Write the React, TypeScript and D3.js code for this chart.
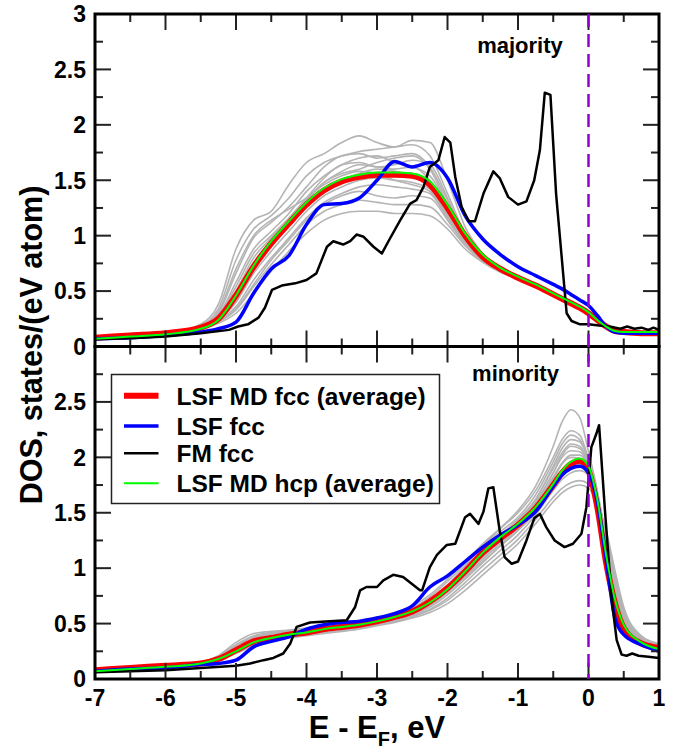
import React from "react";
import * as d3 from "d3";

// energy grid (eV, relative to E_F) shared by the smooth curves
const energy = [-7, -6.5, -6, -5.5, -5.25, -5, -4.75, -4.5, -4.25, -4, -3.75, -3.5, -3.25, -3, -2.75, -2.5, -2.25, -2, -1.75, -1.5, -1.25, -1, -0.75, -0.5, -0.375, -0.25, -0.125, 0, 0.125, 0.25, 0.375, 0.5, 0.75, 1];

// ---- majority spin ----
const majRed = [0.08, 0.10, 0.12, 0.17, 0.25, 0.46, 0.72, 0.93, 1.11, 1.28, 1.41, 1.49, 1.53, 1.55, 1.55, 1.54, 1.46, 1.25, 1.00, 0.81, 0.70, 0.62, 0.55, 0.47, 0.43, 0.39, 0.35, 0.30, 0.24, 0.18, 0.14, 0.13, 0.12, 0.12];
const majGreen = [0.07, 0.09, 0.11, 0.16, 0.24, 0.46, 0.73, 0.95, 1.13, 1.30, 1.43, 1.51, 1.55, 1.57, 1.57, 1.56, 1.49, 1.28, 1.02, 0.83, 0.71, 0.63, 0.56, 0.48, 0.44, 0.40, 0.36, 0.31, 0.24, 0.18, 0.14, 0.13, 0.13, 0.13];
const majBlue = [0.07, 0.08, 0.10, 0.13, 0.16, 0.22, 0.48, 0.70, 0.82, 1.10, 1.28, 1.29, 1.34, 1.50, 1.67, 1.62, 1.66, 1.52, 1.18, 0.97, 0.83, 0.72, 0.64, 0.56, 0.52, 0.47, 0.42, 0.37, 0.28, 0.18, 0.13, 0.12, 0.12, 0.12];
const majBlack: [number, number][] = [
  [-7, 0.065], [-6.5, 0.075], [-6, 0.09], [-5.5, 0.12], [-5.1, 0.15], [-4.97, 0.18], [-4.83, 0.2], [-4.68, 0.26], [-4.59, 0.35], [-4.49, 0.51], [-4.35, 0.55], [-4.16, 0.57], [-4.0, 0.6], [-3.86, 0.66], [-3.71, 0.9], [-3.62, 0.95], [-3.48, 0.92], [-3.38, 0.95], [-3.29, 1.01], [-3.19, 0.99], [-3.05, 0.9], [-2.93, 0.84], [-2.82, 0.97], [-2.67, 1.14], [-2.53, 1.29], [-2.44, 1.32], [-2.34, 1.44], [-2.25, 1.62], [-2.13, 1.68], [-2.04, 1.89], [-1.96, 1.84], [-1.89, 1.53], [-1.8, 1.26], [-1.7, 1.13], [-1.61, 1.13], [-1.49, 1.38], [-1.35, 1.58], [-1.26, 1.52], [-1.14, 1.35], [-1.0, 1.28], [-0.88, 1.31], [-0.77, 1.5], [-0.69, 1.77], [-0.62, 2.29], [-0.54, 2.27], [-0.46, 1.38], [-0.31, 0.3], [-0.24, 0.23], [-0.12, 0.2], [0, 0.2], [0.15, 0.19], [0.3, 0.18], [0.45, 0.16], [0.55, 0.18], [0.65, 0.16], [0.75, 0.17], [0.85, 0.15], [0.92, 0.17], [1.0, 0.15],
];
const majGray = [
  [0.08, 0.10, 0.12, 0.20, 0.38, 0.88, 1.14, 1.22, 1.46, 1.66, 1.74, 1.84, 1.90, 1.84, 1.80, 1.86, 1.84, 1.50, 1.08, 0.84, 0.71, 0.62, 0.55, 0.47, 0.43, 0.39, 0.35, 0.30, 0.24, 0.18, 0.14, 0.13, 0.12, 0.12],
  [0.08, 0.10, 0.12, 0.19, 0.34, 0.78, 1.06, 1.18, 1.34, 1.54, 1.66, 1.72, 1.76, 1.78, 1.80, 1.82, 1.72, 1.38, 1.02, 0.82, 0.70, 0.61, 0.54, 0.46, 0.42, 0.38, 0.34, 0.29, 0.23, 0.17, 0.14, 0.13, 0.12, 0.12],
  [0.08, 0.10, 0.12, 0.18, 0.30, 0.66, 0.98, 1.12, 1.26, 1.44, 1.62, 1.72, 1.74, 1.70, 1.72, 1.74, 1.62, 1.32, 1.00, 0.81, 0.70, 0.63, 0.56, 0.48, 0.44, 0.40, 0.36, 0.31, 0.25, 0.19, 0.15, 0.13, 0.13, 0.13],
  [0.08, 0.10, 0.12, 0.18, 0.28, 0.58, 0.88, 1.04, 1.20, 1.40, 1.54, 1.64, 1.70, 1.72, 1.66, 1.62, 1.54, 1.28, 0.98, 0.80, 0.69, 0.62, 0.55, 0.47, 0.43, 0.39, 0.35, 0.30, 0.24, 0.18, 0.14, 0.13, 0.12, 0.12],
  [0.08, 0.10, 0.12, 0.17, 0.26, 0.50, 0.80, 0.98, 1.14, 1.32, 1.48, 1.58, 1.64, 1.62, 1.60, 1.62, 1.50, 1.24, 0.96, 0.79, 0.69, 0.61, 0.54, 0.46, 0.42, 0.38, 0.34, 0.29, 0.23, 0.17, 0.14, 0.13, 0.12, 0.12],
  [0.08, 0.10, 0.12, 0.17, 0.25, 0.44, 0.72, 0.92, 1.08, 1.26, 1.40, 1.50, 1.56, 1.60, 1.58, 1.54, 1.46, 1.20, 0.95, 0.79, 0.69, 0.62, 0.55, 0.47, 0.43, 0.39, 0.35, 0.30, 0.24, 0.18, 0.14, 0.13, 0.12, 0.12],
  [0.08, 0.10, 0.12, 0.17, 0.24, 0.40, 0.66, 0.86, 1.04, 1.22, 1.36, 1.44, 1.50, 1.52, 1.50, 1.48, 1.42, 1.18, 0.94, 0.79, 0.69, 0.63, 0.56, 0.48, 0.44, 0.40, 0.36, 0.31, 0.25, 0.19, 0.15, 0.13, 0.13, 0.13],
  [0.08, 0.10, 0.12, 0.16, 0.23, 0.36, 0.60, 0.80, 0.98, 1.16, 1.30, 1.38, 1.44, 1.46, 1.44, 1.42, 1.38, 1.16, 0.93, 0.78, 0.68, 0.61, 0.54, 0.46, 0.42, 0.38, 0.34, 0.29, 0.23, 0.17, 0.14, 0.13, 0.12, 0.12],
  [0.08, 0.10, 0.12, 0.16, 0.22, 0.33, 0.54, 0.74, 0.92, 1.10, 1.22, 1.28, 1.32, 1.30, 1.28, 1.28, 1.26, 1.10, 0.91, 0.77, 0.68, 0.62, 0.55, 0.47, 0.43, 0.39, 0.35, 0.30, 0.24, 0.18, 0.14, 0.13, 0.12, 0.12],
  [0.08, 0.10, 0.12, 0.16, 0.21, 0.30, 0.48, 0.68, 0.86, 1.02, 1.14, 1.20, 1.22, 1.22, 1.20, 1.20, 1.18, 1.06, 0.88, 0.76, 0.67, 0.61, 0.54, 0.46, 0.42, 0.38, 0.34, 0.29, 0.23, 0.17, 0.14, 0.13, 0.12, 0.12],
  [0.08, 0.10, 0.12, 0.17, 0.27, 0.54, 0.84, 1.00, 1.16, 1.34, 1.52, 1.64, 1.66, 1.62, 1.64, 1.68, 1.64, 1.34, 0.99, 0.80, 0.70, 0.63, 0.56, 0.48, 0.44, 0.40, 0.36, 0.31, 0.25, 0.19, 0.15, 0.13, 0.13, 0.13],
  [0.08, 0.10, 0.12, 0.18, 0.31, 0.70, 1.00, 1.14, 1.24, 1.34, 1.46, 1.54, 1.58, 1.56, 1.50, 1.46, 1.40, 1.16, 0.94, 0.79, 0.69, 0.62, 0.55, 0.47, 0.43, 0.39, 0.35, 0.30, 0.24, 0.18, 0.14, 0.13, 0.12, 0.12],
  [0.08, 0.10, 0.12, 0.17, 0.25, 0.46, 0.76, 0.96, 1.14, 1.32, 1.48, 1.56, 1.60, 1.66, 1.70, 1.72, 1.60, 1.28, 0.97, 0.80, 0.69, 0.61, 0.54, 0.46, 0.42, 0.38, 0.34, 0.29, 0.23, 0.17, 0.14, 0.13, 0.12, 0.12],
  [0.08, 0.10, 0.12, 0.16, 0.22, 0.34, 0.56, 0.78, 0.96, 1.14, 1.28, 1.36, 1.40, 1.36, 1.34, 1.36, 1.34, 1.14, 0.92, 0.78, 0.68, 0.62, 0.55, 0.47, 0.43, 0.39, 0.35, 0.30, 0.24, 0.18, 0.14, 0.13, 0.12, 0.12],
];

// ---- minority spin ----
const minRed = [0.08, 0.10, 0.12, 0.14, 0.18, 0.26, 0.34, 0.37, 0.40, 0.42, 0.45, 0.47, 0.49, 0.52, 0.56, 0.61, 0.70, 0.82, 0.97, 1.14, 1.27, 1.39, 1.54, 1.75, 1.86, 1.94, 1.97, 1.88, 1.55, 1.05, 0.68, 0.46, 0.32, 0.28];
const minGreen = [0.07, 0.09, 0.11, 0.14, 0.18, 0.25, 0.33, 0.37, 0.40, 0.42, 0.45, 0.47, 0.49, 0.52, 0.56, 0.61, 0.69, 0.81, 0.97, 1.14, 1.28, 1.40, 1.55, 1.76, 1.88, 1.96, 1.99, 1.92, 1.62, 1.12, 0.72, 0.49, 0.33, 0.27];
const minBlue = [0.07, 0.09, 0.10, 0.13, 0.14, 0.17, 0.29, 0.34, 0.38, 0.45, 0.49, 0.51, 0.52, 0.55, 0.59, 0.66, 0.83, 0.93, 1.06, 1.19, 1.30, 1.39, 1.51, 1.74, 1.84, 1.90, 1.92, 1.86, 1.60, 1.08, 0.55, 0.40, 0.31, 0.25];
const minBlack: [number, number][] = [
  [-7, 0.06], [-6.5, 0.07], [-6, 0.08], [-5.5, 0.1], [-5.0, 0.12], [-4.8, 0.14], [-4.61, 0.17], [-4.47, 0.19], [-4.33, 0.23], [-4.23, 0.32], [-4.14, 0.47], [-3.95, 0.51], [-3.67, 0.52], [-3.43, 0.53], [-3.31, 0.65], [-3.24, 0.8], [-3.15, 0.83], [-3.0, 0.83], [-2.91, 0.89], [-2.77, 0.94], [-2.63, 0.92], [-2.39, 0.8], [-2.36, 0.8], [-2.25, 1.01], [-2.15, 1.12], [-2.01, 1.21], [-1.89, 1.22], [-1.75, 1.46], [-1.68, 1.49], [-1.56, 1.4], [-1.49, 1.51], [-1.42, 1.72], [-1.35, 1.73], [-1.26, 1.34], [-1.19, 1.1], [-1.09, 1.04], [-1.0, 1.06], [-0.88, 1.25], [-0.77, 1.45], [-0.69, 1.49], [-0.6, 1.37], [-0.48, 1.25], [-0.34, 1.19], [-0.22, 1.22], [-0.1, 1.31], [-0.03, 1.55], [0.04, 2.09], [0.11, 2.21], [0.15, 2.29], [0.23, 1.55], [0.33, 0.71], [0.4, 0.35], [0.47, 0.22], [0.54, 0.21], [0.62, 0.23], [0.71, 0.21], [0.85, 0.2], [1.0, 0.19],
];
const minGray = [
  [0.08, 0.10, 0.12, 0.15, 0.21, 0.33, 0.41, 0.43, 0.44, 0.45, 0.47, 0.49, 0.51, 0.54, 0.58, 0.63, 0.72, 0.85, 1.02, 1.20, 1.36, 1.52, 1.74, 2.10, 2.32, 2.43, 2.36, 2.05, 1.70, 1.25, 0.82, 0.55, 0.36, 0.30],
  [0.08, 0.10, 0.12, 0.15, 0.20, 0.31, 0.39, 0.42, 0.44, 0.46, 0.48, 0.50, 0.53, 0.56, 0.60, 0.66, 0.76, 0.90, 1.06, 1.22, 1.36, 1.50, 1.70, 2.00, 2.16, 2.24, 2.20, 1.98, 1.66, 1.22, 0.80, 0.54, 0.35, 0.30],
  [0.08, 0.10, 0.12, 0.15, 0.20, 0.30, 0.38, 0.41, 0.43, 0.45, 0.47, 0.49, 0.52, 0.55, 0.59, 0.64, 0.74, 0.88, 1.04, 1.20, 1.33, 1.46, 1.66, 1.96, 2.12, 2.20, 2.16, 1.96, 1.64, 1.20, 0.78, 0.53, 0.35, 0.30],
  [0.08, 0.10, 0.12, 0.14, 0.19, 0.28, 0.36, 0.40, 0.42, 0.44, 0.46, 0.48, 0.50, 0.53, 0.57, 0.62, 0.70, 0.84, 1.00, 1.16, 1.30, 1.44, 1.62, 1.90, 2.04, 2.12, 2.10, 1.94, 1.62, 1.18, 0.76, 0.52, 0.34, 0.29],
  [0.08, 0.10, 0.12, 0.14, 0.19, 0.27, 0.35, 0.39, 0.42, 0.44, 0.46, 0.48, 0.50, 0.53, 0.56, 0.61, 0.69, 0.82, 0.97, 1.12, 1.26, 1.40, 1.58, 1.86, 2.00, 2.06, 2.05, 1.92, 1.62, 1.20, 0.78, 0.53, 0.34, 0.29],
  [0.08, 0.10, 0.12, 0.14, 0.18, 0.26, 0.34, 0.38, 0.41, 0.43, 0.45, 0.47, 0.49, 0.52, 0.55, 0.60, 0.68, 0.80, 0.94, 1.10, 1.24, 1.38, 1.56, 1.82, 1.95, 2.02, 2.02, 1.92, 1.64, 1.24, 0.82, 0.55, 0.35, 0.30],
  [0.08, 0.10, 0.12, 0.14, 0.18, 0.25, 0.33, 0.37, 0.40, 0.42, 0.44, 0.46, 0.48, 0.51, 0.54, 0.58, 0.65, 0.76, 0.90, 1.05, 1.20, 1.34, 1.52, 1.76, 1.88, 1.95, 1.97, 1.90, 1.66, 1.28, 0.86, 0.57, 0.36, 0.30],
  [0.08, 0.10, 0.12, 0.14, 0.18, 0.25, 0.32, 0.36, 0.39, 0.41, 0.43, 0.45, 0.47, 0.50, 0.53, 0.57, 0.63, 0.73, 0.87, 1.02, 1.16, 1.30, 1.48, 1.70, 1.80, 1.86, 1.88, 1.84, 1.64, 1.30, 0.90, 0.60, 0.37, 0.31],
  [0.08, 0.10, 0.12, 0.14, 0.17, 0.24, 0.31, 0.35, 0.38, 0.40, 0.42, 0.44, 0.46, 0.49, 0.52, 0.56, 0.62, 0.71, 0.84, 0.98, 1.12, 1.26, 1.44, 1.64, 1.72, 1.77, 1.79, 1.76, 1.60, 1.32, 0.94, 0.62, 0.38, 0.31],
  [0.08, 0.10, 0.12, 0.14, 0.17, 0.23, 0.30, 0.34, 0.37, 0.39, 0.41, 0.43, 0.45, 0.48, 0.51, 0.55, 0.60, 0.68, 0.80, 0.94, 1.08, 1.22, 1.40, 1.60, 1.68, 1.73, 1.75, 1.72, 1.58, 1.34, 0.98, 0.65, 0.39, 0.32],
  [0.08, 0.10, 0.12, 0.15, 0.20, 0.29, 0.37, 0.41, 0.43, 0.45, 0.47, 0.49, 0.51, 0.54, 0.58, 0.63, 0.71, 0.84, 0.99, 1.14, 1.28, 1.42, 1.62, 1.92, 2.08, 2.16, 2.14, 1.98, 1.68, 1.26, 0.84, 0.56, 0.36, 0.30],
  [0.08, 0.10, 0.12, 0.14, 0.18, 0.26, 0.34, 0.38, 0.41, 0.43, 0.45, 0.47, 0.49, 0.52, 0.55, 0.59, 0.66, 0.78, 0.92, 1.08, 1.22, 1.36, 1.54, 1.80, 1.94, 2.00, 1.99, 1.88, 1.60, 1.20, 0.80, 0.54, 0.35, 0.30],
  [0.08, 0.10, 0.12, 0.14, 0.18, 0.25, 0.33, 0.37, 0.40, 0.43, 0.45, 0.47, 0.49, 0.52, 0.56, 0.61, 0.68, 0.79, 0.92, 1.06, 1.20, 1.34, 1.50, 1.72, 1.84, 1.92, 1.94, 1.86, 1.62, 1.26, 0.86, 0.58, 0.36, 0.30],
  [0.08, 0.10, 0.12, 0.15, 0.19, 0.28, 0.36, 0.40, 0.42, 0.44, 0.46, 0.48, 0.50, 0.53, 0.57, 0.62, 0.70, 0.83, 0.98, 1.14, 1.28, 1.42, 1.60, 1.86, 2.02, 2.10, 2.08, 1.94, 1.62, 1.18, 0.78, 0.52, 0.34, 0.29],
];

const legendItems = [
  { label: "LSF MD fcc (average)", color: "#ff0000", width: 6 },
  { label: "LSF fcc", color: "#0000ff", width: 3.5 },
  { label: "FM fcc", color: "#000000", width: 2.5 },
  { label: "LSF MD hcp (average)", color: "#00ff00", width: 2 },
];

const FONT = "'Liberation Sans', Arial, Helvetica, sans-serif";

const left = 95;
const right = 659;
const top = 14;
const mid = 346.5;
const bottom = 679;

const x = d3.scaleLinear().domain([-7, 1]).range([left, right]);
const yTop = d3.scaleLinear().domain([0, 3]).range([mid, top]);
const yBot = d3.scaleLinear().domain([0, 3]).range([bottom, mid]);

const fmt = (v: number) => (Number.isInteger(v) ? String(v) : v.toFixed(1));

function Panel({ y, y0, y1, gray, red, blue, black, green, id, yLabels }: any) {
  const smooth = d3
    .line<number>()
    .x((_, i) => x(energy[i]))
    .y((d) => y(d))
    .curve(d3.curveMonotoneX);
  const sharp = d3
    .line<[number, number]>()
    .x((d) => x(d[0]))
    .y((d) => y(d[1]));

  const xt = d3.range(-6.5, 0.51, 0.5);
  const yt = d3.range(0.25, 2.76, 0.25);
  const tickColor = "#222";

  return (
    <g>
      <defs>
        <clipPath id={id}>
          <rect x={left} y={y1} width={right - left} height={y0 - y1} />
        </clipPath>
      </defs>
      <g clipPath={`url(#${id})`} fill="none" strokeLinejoin="round" strokeLinecap="round">
        {gray.map((g: number[], i: number) => (
          <path key={i} d={smooth(g) || ""} stroke="#b4b4b4" strokeWidth={1.6} />
        ))}
        <path d={smooth(red) || ""} stroke="#ff0000" strokeWidth={6} />
        <path d={smooth(blue) || ""} stroke="#0000ff" strokeWidth={3.5} />
        <path d={sharp(black) || ""} stroke="#000" strokeWidth={2.5} />
        <path d={smooth(green) || ""} stroke="#00ff00" strokeWidth={2} />
      </g>
      {xt.map((v) => {
        const len = Number.isInteger(v) ? 16 : 8;
        return (
          <g key={"x" + v} stroke={tickColor} strokeWidth={2}>
            <line x1={x(v)} x2={x(v)} y1={y0} y2={y0 - len} />
            <line x1={x(v)} x2={x(v)} y1={y1} y2={y1 + len} />
          </g>
        );
      })}
      {yt.map((v) => {
        const len = Math.abs(v * 2 - Math.round(v * 2)) < 1e-6 ? 16 : 8;
        return (
          <g key={"y" + v} stroke={tickColor} strokeWidth={2}>
            <line x1={left} x2={left + len} y1={y(v)} y2={y(v)} />
            <line x1={right} x2={right - len} y1={y(v)} y2={y(v)} />
          </g>
        );
      })}
      {yLabels.map((v: number) => (
        <text key={"l" + v} x={86} y={y(v)} dy="0.36em" textAnchor="end" fontSize={23} fontWeight="bold" fontFamily={FONT}>
          {fmt(v)}
        </text>
      ))}
      <rect x={left} y={y1} width={right - left} height={y0 - y1} fill="none" stroke="#000" strokeWidth={3} />
    </g>
  );
}

export default function App() {
  const xLabels = d3.range(-7, 1.01, 1);
  return (
    <svg width={689} height={754} style={{ display: "block", position: "absolute", left: 0, top: 0 }}>
      <rect width={689} height={754} fill="#fff" />
      <Panel id="clipTop" y={yTop} y0={mid} y1={top} gray={majGray} red={majRed} blue={majBlue} black={majBlack} green={majGreen} yLabels={[0, 0.5, 1, 1.5, 2, 2.5, 3]} />
      <Panel id="clipBot" y={yBot} y0={bottom} y1={mid} gray={minGray} red={minRed} blue={minBlue} black={minBlack} green={minGreen} yLabels={[0, 0.5, 1, 1.5, 2, 2.5]} />

      <line x1={x(0)} x2={x(0)} y1={top} y2={bottom} stroke="#9400d3" strokeWidth={2.5} strokeDasharray="13,7" />

      <text x={520} y={53} textAnchor="middle" fontSize={22} fontWeight="bold" fontFamily={FONT}>majority</text>
      <text x={515.5} y={381} textAnchor="middle" fontSize={22} fontWeight="bold" fontFamily={FONT}>minority</text>

      {/* legend */}
      <rect x={111.5} y={374.5} width={328} height={129} fill="#fff" stroke="#222" strokeWidth={1.5} />
      {legendItems.map((d, i) => {
        const rows = [395.7, 426, 453.3, 483.3];
        return (
          <g key={d.label}>
            <line x1={124} x2={158.5} y1={rows[i]} y2={rows[i]} stroke={d.color} strokeWidth={d.width} />
            <text x={176.5} y={rows[i]} dy="0.36em" fontSize={24.5} fontWeight="bold" fontFamily={FONT}>{d.label}</text>
          </g>
        );
      })}

      {xLabels.map((v) => (
        <text key={v} x={x(v)} y={706} textAnchor="middle" fontSize={23} fontWeight="bold" fontFamily={FONT}>
          {v}
        </text>
      ))}

      <text x={377} y={738} textAnchor="middle" fontSize={31} fontWeight="bold" fontFamily={FONT}>
        E - E<tspan fontSize={20} dy={8}>F</tspan><tspan dy={-8}>, eV</tspan>
      </text>
      <text transform="translate(42,345) rotate(-90)" textAnchor="middle" fontSize={30.5} fontWeight="bold" fontFamily={FONT}>
        DOS, states/(eV atom)
      </text>
    </svg>
  );
}
